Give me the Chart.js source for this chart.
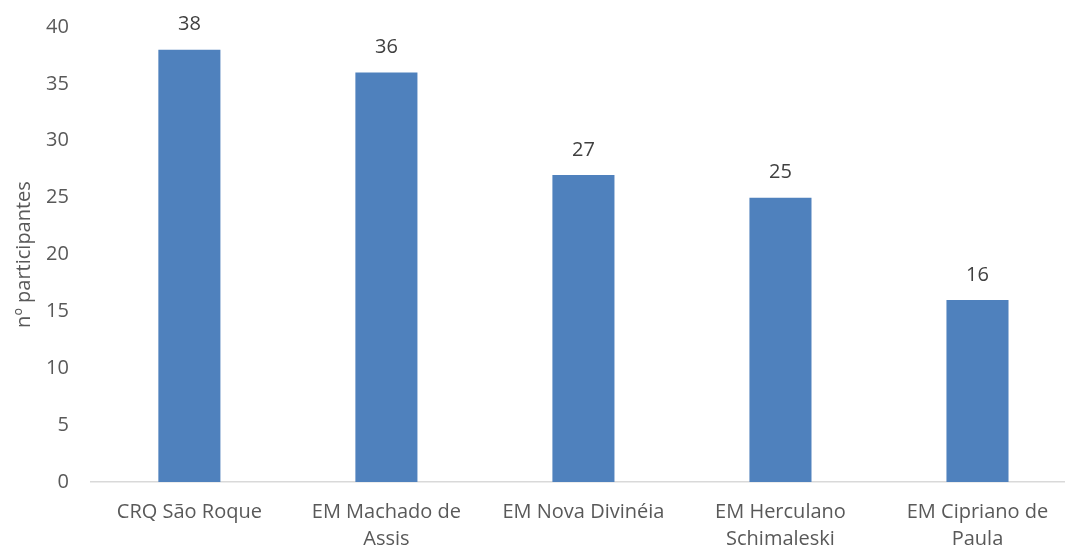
<!DOCTYPE html>
<html>
<head>
<meta charset="UTF-8">
<title>nº participantes</title>
<script src="https://cdn.jsdelivr.net/npm/chart.js@4.4.1/dist/chart.umd.min.js"></script>
<style>
  html, body { margin: 0; padding: 0; background: #fff; overflow: hidden; }
  .wrap { width: 1076px; height: 552px; }
</style>
</head>
<body>
<div class="wrap"><canvas id="chart" width="1076" height="552"></canvas></div>
<script>
const categories = [
  'CRQ São Roque',
  ['EM Machado de', 'Assis'],
  'EM Nova Divinéia',
  ['EM Herculano', 'Schimaleski'],
  ['EM Cipriano de', 'Paula']
];
const participantes = [38, 36, 27, 25, 16];
const yTicks = [0, 5, 10, 15, 20, 25, 30, 35, 40];

const FONT = "'Open Sans', 'Liberation Sans', sans-serif";
const TEXT = '#595959';

// rótulos de valor acima das barras
const valueLabels = {
  id: 'valueLabels',
  afterDatasetsDraw(chart) {
    const ctx = chart.ctx;
    ctx.save();
    ctx.font = '20px ' + FONT;
    ctx.fillStyle = '#404040';
    ctx.textAlign = 'center';
    ctx.textBaseline = 'middle';
    chart.getDatasetMeta(0).data.forEach((bar, i) => {
      ctx.fillText(participantes[i], bar.x, bar.y - 25);
    });
    ctx.restore();
  }
};

new Chart(document.getElementById('chart'), {
  type: 'bar',
  data: {
    labels: categories,
    datasets: [{
      data: participantes,
      backgroundColor: '#4F81BD',
      barPercentage: 0.315,
      categoryPercentage: 1
    }]
  },
  options: {
    responsive: false,
    animation: false,
    layout: { padding: { top: 26, left: 12, right: 0, bottom: -18 } },
    plugins: { legend: { display: false }, tooltip: { enabled: false } },
    scales: {
      x: {
        grid: { display: false, drawTicks: false },
        border: { color: '#D9D9D9', width: 1.5 },
        ticks: { color: TEXT, font: { family: FONT, size: 20, lineHeight: 1.35 }, padding: 17, maxRotation: 0, autoSkip: false }
      },
      y: {
        min: 0,
        max: 40,
        afterBuildTicks: axis => { axis.ticks = yTicks.map(v => ({ value: v })); },
        grid: { display: false, drawTicks: false },
        border: { display: false },
        ticks: { color: TEXT, font: { family: FONT, size: 20, lineHeight: 0.5 }, padding: 22 },
        title: { display: true, text: 'nº participantes', color: TEXT, font: { family: FONT, size: 20 }, padding: { top: 0, bottom: -12 } }
      }
    }
  },
  plugins: [valueLabels]
});
</script>
</body>
</html>
